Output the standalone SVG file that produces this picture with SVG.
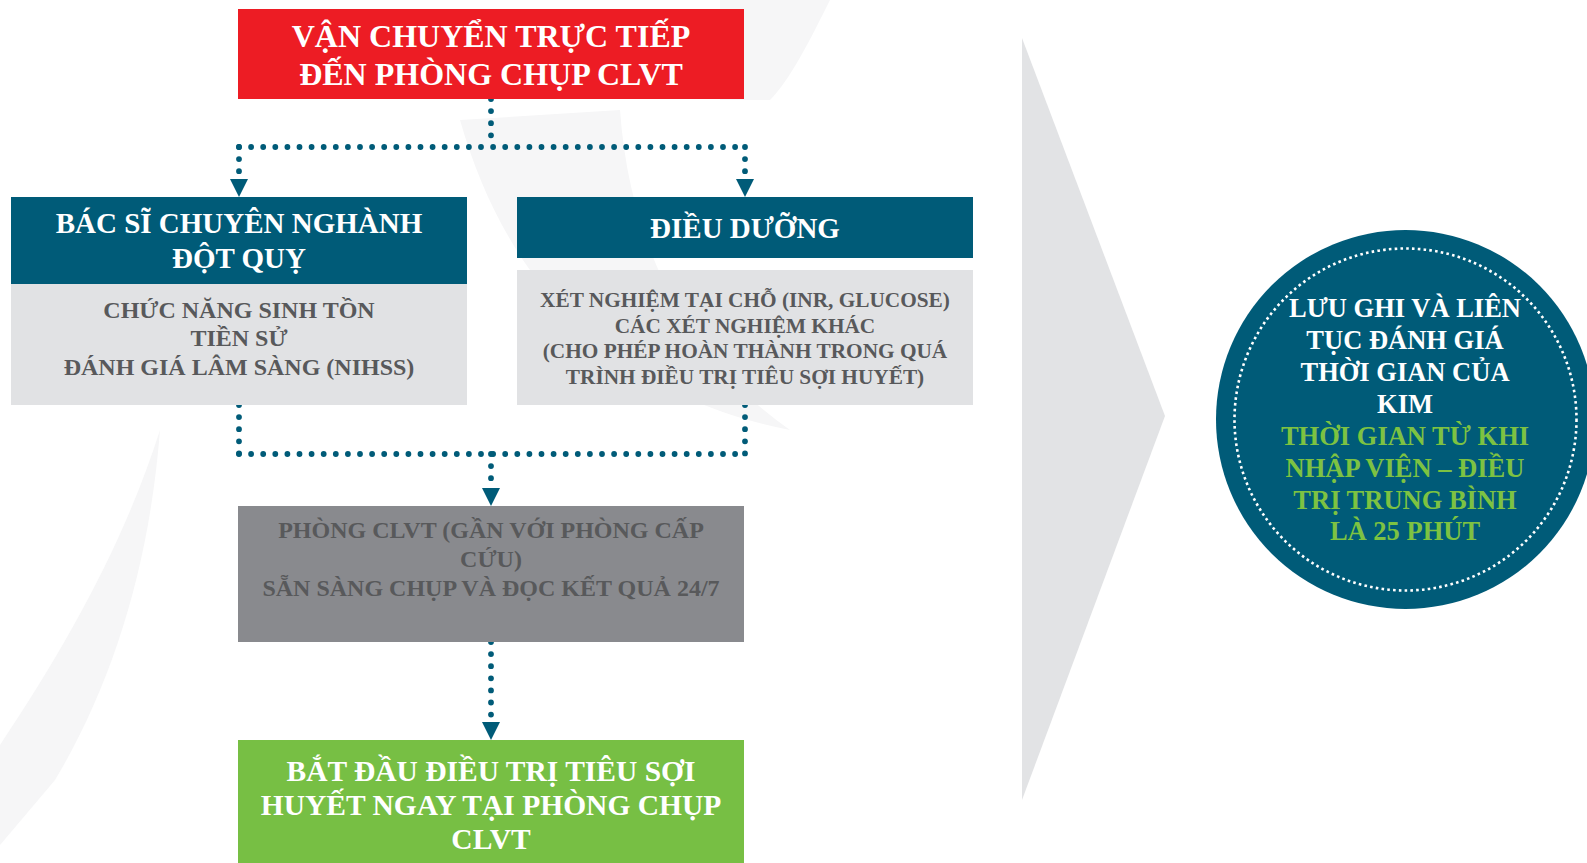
<svg xmlns="http://www.w3.org/2000/svg" width="1587" height="863" viewBox="0 0 1587 863">
  <defs>
    <style>
      text { font-family: "Liberation Serif", "Times New Roman", serif; font-weight: bold; text-anchor: middle; }
      .w { fill: #ffffff; }
      .g { fill: #58595b; }
      .lg { fill: #7dc242; }
      .dots { fill: none; stroke: #005b78; stroke-width: 5.8; stroke-linecap: round; stroke-dasharray: 0 12.1; }
      .teal { fill: #005b78; }
      .light { fill: #e1e2e4; }
      .wm { fill: #f6f6f7; }
    </style>
    <marker id="ah" viewBox="0 -9 18 18" refX="0" refY="0" markerWidth="18" markerHeight="18" markerUnits="userSpaceOnUse" orient="auto">
      <path d="M0,-9 L18,0 L0,9 Z" fill="#005b78"/>
    </marker>
  </defs>

  <rect width="1587" height="863" fill="#ffffff"/>

  <!-- faint background watermark -->
  <g id="watermark">
    <path class="wm" d="M0,745 C70,640 125,540 160,430 C150,560 115,680 55,780 L0,845 Z"/>
    <path class="wm" d="M460,120 C500,260 590,390 790,430 C690,360 630,250 620,110 Z"/>
    <path class="wm" d="M720,0 L830,0 C810,40 790,80 770,100 L720,100 Z"/>
  </g>

  <!-- big light arrow -->
  <g id="big-arrow">
    <polygon points="1022,38 1165,416 1022,800" fill="#e2e3e5"/>
  </g>

  <g id="connectors">
    <path class="dots" d="M491,99 L491,147"/>
    <path class="dots" d="M239,147 L745,147"/>
    <path class="dots" d="M239,147 L239,179" marker-end="url(#ah)"/>
    <path class="dots" d="M745,147 L745,179" marker-end="url(#ah)"/>
    <path class="dots" d="M239,405 L239,454"/>
    <path class="dots" d="M745,405 L745,454"/>
    <path class="dots" d="M239,454 L745,454"/>
    <path class="dots" d="M491,454 L491,488" marker-end="url(#ah)"/>
    <path class="dots" d="M491,642 L491,722" marker-end="url(#ah)"/>
  </g>

  <g id="node-transport">
    <rect x="238" y="9" width="506" height="90" fill="#ed1c24"/>
    <text class="w" x="491" y="47" font-size="32">VẬN CHUYỂN TRỰC TIẾP</text>
    <text class="w" x="491" y="85" font-size="32">ĐẾN PHÒNG CHỤP CLVT</text>
  </g>

  <g id="node-doctor">
    <rect class="teal" x="11" y="197" width="456" height="87"/>
    <rect class="light" x="11" y="284" width="456" height="121"/>
    <text class="w" x="239" y="233" font-size="29">BÁC SĨ CHUYÊN NGHÀNH</text>
    <text class="w" x="239" y="268" font-size="29">ĐỘT QUỴ</text>
    <text class="g" x="239" y="318" font-size="24">CHỨC NĂNG SINH TỒN</text>
    <text class="g" x="239" y="346" font-size="24">TIỀN SỬ</text>
    <text class="g" x="239" y="375" font-size="24">ĐÁNH GIÁ LÂM SÀNG (NIHSS)</text>
  </g>

  <g id="node-nurse">
    <rect class="teal" x="517" y="197" width="456" height="61"/>
    <rect class="light" x="517" y="270" width="456" height="135"/>
    <text class="w" x="745" y="238" font-size="29">ĐIỀU DƯỠNG</text>
    <text class="g" x="745" y="307" font-size="21.3">XÉT NGHIỆM TẠI CHỖ (INR, GLUCOSE)</text>
    <text class="g" x="745" y="333" font-size="21.3">CÁC XÉT NGHIỆM KHÁC</text>
    <text class="g" x="745" y="358" font-size="21.3">(CHO PHÉP HOÀN THÀNH TRONG QUÁ</text>
    <text class="g" x="745" y="384" font-size="21.3">TRÌNH ĐIỀU TRỊ TIÊU SỢI HUYẾT)</text>
  </g>

  <g id="node-ct">
    <rect x="238" y="506" width="506" height="136" fill="#898a8e"/>
    <text class="g" x="491" y="538" font-size="24">PHÒNG CLVT (GẦN VỚI PHÒNG CẤP</text>
    <text class="g" x="491" y="567" font-size="24">CỨU)</text>
    <text class="g" x="491" y="596" font-size="24">SẴN SÀNG CHỤP VÀ ĐỌC KẾT QUẢ 24/7</text>
  </g>

  <g id="node-treatment">
    <rect x="238" y="740" width="506" height="123" fill="#77bf44"/>
    <text class="w" x="491" y="781" font-size="29.5">BẮT ĐẦU ĐIỀU TRỊ TIÊU SỢI</text>
    <text class="w" x="491" y="815" font-size="29.5">HUYẾT NGAY TẠI PHÒNG CHỤP</text>
    <text class="w" x="491" y="849" font-size="29.5">CLVT</text>
  </g>

  <g id="node-circle">
    <circle class="teal" cx="1405.5" cy="419.5" r="189.5"/>
    <circle cx="1405.5" cy="419.5" r="171" fill="none" stroke="#ffffff" stroke-width="2.6" stroke-dasharray="2.6 3.2"/>
    <text class="w" x="1405" y="317" font-size="26.5">LƯU GHI VÀ LIÊN</text>
    <text class="w" x="1405" y="349" font-size="26.5">TỤC ĐÁNH GIÁ</text>
    <text class="w" x="1405" y="381" font-size="26.5">THỜI GIAN CỦA</text>
    <text class="w" x="1405" y="413" font-size="26.5">KIM</text>
    <text class="lg" x="1405" y="445" font-size="26.5">THỜI GIAN TỪ KHI</text>
    <text class="lg" x="1405" y="477" font-size="26.5">NHẬP VIỆN – ĐIỀU</text>
    <text class="lg" x="1405" y="509" font-size="26.5">TRỊ TRUNG BÌNH</text>
    <text class="lg" x="1405" y="540" font-size="26.5">LÀ 25 PHÚT</text>
  </g>
</svg>
